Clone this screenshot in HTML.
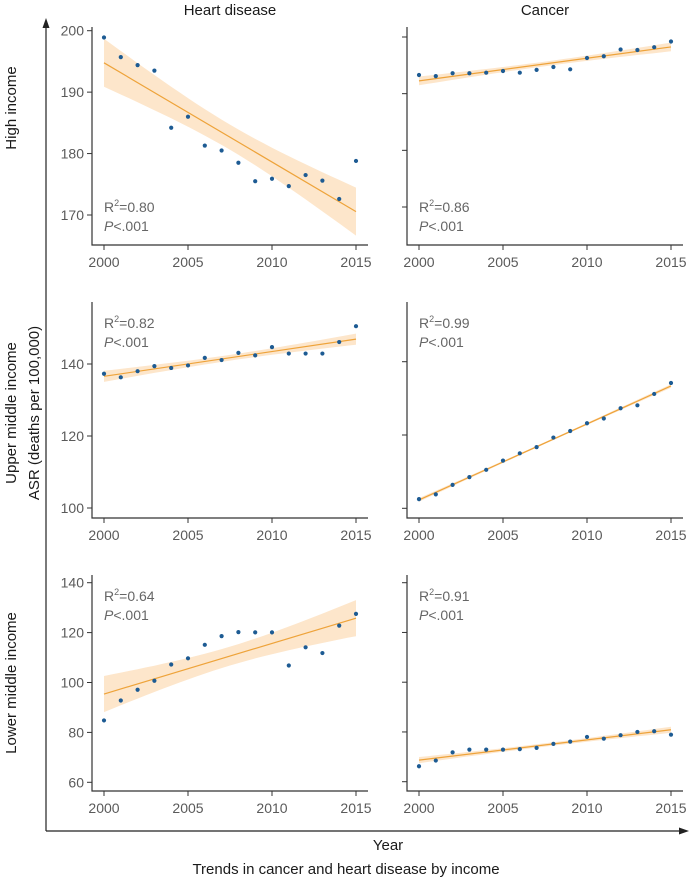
<!DOCTYPE html>
<html><head><meta charset="utf-8">
<style>
html,body{margin:0;padding:0;background:#fff;}
svg{display:block;font-family:"Liberation Sans",sans-serif;}
.tick{font-size:14px;fill:#5a5a5a;}
.ann{font-size:14px;fill:#666;}
.lab{font-size:15px;fill:#1a1a1a;font-weight:500;}
</style></head>
<body>
<svg id="chart" width="692" height="877" viewBox="0 0 692 877"></svg>
<script>
const years = [2000,2001,2002,2003,2004,2005,2006,2007,2008,2009,2010,2011,2012,2013,2014,2015];
const heartHigh = [198.9,195.7,194.4,193.5,184.2,186,181.3,180.5,178.5,175.5,175.9,174.7,176.5,175.6,172.6,178.8];
const cancerHigh = [193.3,193.1,193.6,193.6,193.7,194.0,193.7,194.2,194.7,194.3,196.3,196.6,197.8,197.7,198.2,199.2];
const heartUpper = [137.3,136.3,138,139.4,138.9,139.6,141.7,141.1,143.1,142.4,144.7,142.9,142.9,142.9,146.1,150.5];
const cancerUpper = [102.5,103.8,106.4,108.5,110.5,113,115,116.7,119.3,121.1,123.2,124.5,127.3,128.1,131.2,134.2];
const heartLower = [84.8,92.8,97.1,100.7,107.2,109.7,115.1,118.6,120.2,120.1,120.1,106.8,114.1,111.8,122.8,127.5];
const cancerLower = [66.2,68.5,71.8,72.9,72.9,72.9,73.1,73.6,75.2,76.1,78,77.3,78.7,80,80.3,78.9];
const xTicks = [2000,2005,2010,2015];
const ticksHigh = [200,190,180,170];
const ticksCancerHigh = [200,190,180,170];
const ticksUpper = [140,120,100];
const ticksLower = [140,120,100,80,60];
const r2Labels = ["0.80","0.86","0.82","0.99","0.64","0.91"];

const NS="http://www.w3.org/2000/svg";
const svg=document.getElementById('chart');
function mk(tag,attrs,parent){const e=document.createElementNS(NS,tag);for(const k in attrs)e.setAttribute(k,attrs[k]);(parent||svg).appendChild(e);return e;}

const panels=[
 {name:'heart-high',data:heartHigh,ticks:ticksHigh,labels:true,x0:92,x1:368,top:27,bot:245,vA:200,yA:30.7,vB:170,yB:215},
 {name:'cancer-high',data:cancerHigh,ticks:ticksCancerHigh,labels:false,x0:407,x1:683,top:27,bot:245,vA:200,yA:37,vB:170,yB:207},
 {name:'heart-upper',data:heartUpper,ticks:ticksUpper,labels:true,x0:92,x1:368,top:302,bot:518,vA:140,yA:364,vB:100,yB:508},
 {name:'cancer-upper',data:cancerUpper,ticks:ticksUpper,labels:false,x0:407,x1:683,top:302,bot:518,vA:140,yA:361.7,vB:100,yB:508.3},
 {name:'heart-lower',data:heartLower,ticks:ticksLower,labels:true,x0:92,x1:368,top:575,bot:791,vA:140,yA:582.7,vB:60,yB:782.3},
 {name:'cancer-lower',data:cancerLower,ticks:ticksLower,labels:false,x0:407,x1:683,top:575,bot:791,vA:140,yA:582.7,vB:60,yB:781.7}
];
const annY=[[212,231],[212,231],[328,347],[328,347],[601,620],[601,620]];

panels.forEach((p,i)=>{
  const g=mk('g',{});
  
  
  const xs=v=>p.x0+12+(v-2000)/15*(p.x1-p.x0-24);
  const ys=v=>p.yA+(v-p.vA)/(p.vB-p.vA)*(p.yB-p.yA);
  const n=years.length;const mx=years.reduce((a,b)=>a+b)/n;const my=p.data.reduce((a,b)=>a+b)/n;
  let sxx=0,sxy=0;years.forEach((x,k)=>{sxx+=(x-mx)**2;sxy+=(x-mx)*(p.data[k]-my);});
  const b=sxy/sxx,a=my-b*mx;
  let sse=0;years.forEach((x,k)=>{sse+=(p.data[k]-(a+b*x))**2;});
  const se=Math.sqrt(sse/(n-2));const t=2.145;
  const up=[],dn=[];
  for(let s=0;s<=30;s++){const x=2000+s*0.5;const yh=a+b*x;const w=t*se*Math.sqrt(1/n+(x-mx)**2/sxx);
    up.push(xs(x).toFixed(1)+','+ys(yh+w).toFixed(1));dn.unshift(xs(x).toFixed(1)+','+ys(yh-w).toFixed(1));}
  const band=mk('polygon',{points:up.concat(dn).join(' '),fill:'#fde6cb'},g);
  
  
  const ln=mk('line',{x1:xs(2000),y1:ys(a+b*2000),x2:xs(2015),y2:ys(a+b*2015),stroke:'#eea33a','stroke-width':1.2},g);
  
  
  p.data.forEach((v,k)=>{
    const c=mk('circle',{cx:xs(years[k]),cy:ys(v),r:2.1,fill:'#1d5b93'},g);
    
    
  });
  const ax=mk('path',{d:`M${p.x0},${p.top}V${p.bot}H${p.x1}`,fill:'none',stroke:'#333','stroke-width':1.2},g);
  
  
  p.ticks.forEach(v=>{
    mk('line',{x1:p.x0-5,x2:p.x0,y1:ys(v),y2:ys(v),stroke:'#333'},g);
    if(p.labels){const tx=mk('text',{x:p.x0-8,y:ys(v)+5,'text-anchor':'end',class:'tick'},g);tx.textContent=v;
      
      }
  });
  xTicks.forEach(v=>{
    mk('line',{x1:xs(v),x2:xs(v),y1:p.bot,y2:p.bot+5,stroke:'#333'},g);
    const tx=mk('text',{x:xs(v),y:p.bot+22,'text-anchor':'middle',class:'tick'},g);tx.textContent=v;
    
    
  });
  const r=mk('text',{x:p.x0+12,y:annY[i][0],class:'ann'},g);
  r.innerHTML='R<tspan dy="-6" font-size="9">2</tspan><tspan dy="6">='+r2Labels[i]+'</tspan>';
  
  
  const pv=mk('text',{x:p.x0+12,y:annY[i][1],class:'ann'},g);
  pv.innerHTML='<tspan font-style="italic">P</tspan>&lt;.001';
  
  
});

const oy=mk('path',{d:'M46,831V24',stroke:'#222','stroke-width':1.2,fill:'none'});


mk('polygon',{points:'46,18 42.5,28 49.5,28',fill:'#222'});
const ox=mk('path',{d:'M46,831H682',stroke:'#222','stroke-width':1.2,fill:'none'});


mk('polygon',{points:'689,831 679,827.5 679,834.5',fill:'#222'});

function label(txt,x,y,name,rot){
  const t=mk('text',{x:x,y:y,class:'lab','text-anchor':'middle'});
  if(rot)t.setAttribute('transform',`rotate(-90 ${x} ${y})`);
  t.textContent=txt;
  
  
}
label('Heart disease',230,15,'column-title-heart');
label('Cancer',545,15,'column-title-cancer');
label('High income',16,108,'row-label-high',true);
label('Upper middle income',16,413,'row-label-upper',true);
label('ASR (deaths per 100,000)',39,413,'y-axis-title',true);
label('Lower middle income',16,683,'row-label-lower',true);
label('Year',388,850,'x-axis-title');
label('Trends in cancer and heart disease by income',346,874,'chart-caption');
</script>
</body></html>
